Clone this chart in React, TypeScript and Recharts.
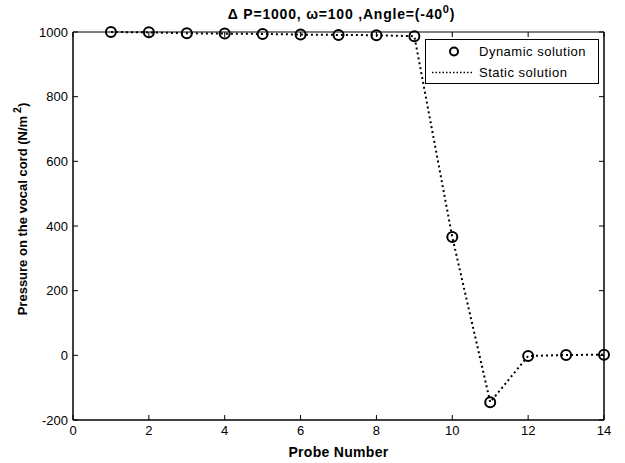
import React from 'react';
import { LineChart, Line, XAxis, YAxis, Legend, Label } from 'recharts';

// Probe positions along the vocal cord
const probeNumbers = [1, 2, 3, 4, 5, 6, 7, 8, 9, 10, 11, 12, 13, 14];
// Pressure values (N/m^2) at each probe
const dynamicSolution = [1000, 999, 996, 995, 994, 992, 991, 990, 987, 366, -145, -2, 1, 2];
const staticSolution = [1000, 999, 996, 995, 994, 992, 991, 990, 987, 366, -145, -2, 1, 2];

const xTicks = [0, 2, 4, 6, 8, 10, 12, 14];
const yTicks = [-200, 0, 200, 400, 600, 800, 1000];

const data = probeNumbers.map((p, i) => ({
  probe: p,
  dynamic: dynamicSolution[i],
  stat: staticSolution[i],
}));

const FONT = '"Liberation Sans", Arial, Helvetica, sans-serif';

const YLabel = (props: any) => {
  const vb = props.viewBox || {};
  const cx = 22;
  const cy = vb.y + vb.height / 2 - 17;
  return (
    <text
      x={cx}
      y={cy}
      transform={`rotate(-90, ${cx}, ${cy})`}
      textAnchor="middle"
      dominantBaseline="central"
      fontFamily={FONT}
      fontSize={13}
      fontWeight="bold"
      fill="#000"
    >
      Pressure on the vocal cord (N/m
      <tspan dx={3} dy={-5} fontSize={10.5}>2</tspan>
      <tspan dy={5}>)</tspan>
    </text>
  );
};

const LegendBox = (props: any) => {
  const payload = [...(props.payload || [])].sort((a: any, b: any) =>
    a.dataKey === 'dynamic' ? -1 : b.dataKey === 'dynamic' ? 1 : 0
  );
  return (
    <div
      style={{
        width: 174,
        height: 45,
        border: '1px solid #000',
        background: '#fff',
        fontFamily: FONT,
        fontSize: 13,
        letterSpacing: 0.5,
        color: '#000',
        boxSizing: 'border-box',
      }}
    >
      {payload.map((item: any) => (
        <div
          key={item.dataKey}
          style={{ display: 'flex', alignItems: 'center', height: 21, marginTop: item.dataKey === 'dynamic' ? 1 : 0 }}
        >
          <svg width={52} height={21}>
            {item.dataKey === 'dynamic' ? (
              <circle cx={28} cy={10.5} r={4} fill="none" stroke="#000" strokeWidth={2} />
            ) : (
              <line x1={6} y1={10.5} x2={48} y2={10.5} stroke="#000" strokeWidth={1.5} strokeDasharray="1.5 2" />
            )}
          </svg>
          <span style={{ marginLeft: 1 }}>{item.value}</span>
        </div>
      ))}
    </div>
  );
};

export default function App() {
  return (
    <div style={{ position: 'absolute', left: 0, top: 0, width: 625, height: 463, background: '#fff' }}>
      <div
        style={{
          position: 'absolute',
          left: 73,
          width: 537,
          top: 4,
          textAlign: 'center',
          fontFamily: FONT,
          fontSize: 14,
          letterSpacing: 0.8,
          fontWeight: 'bold',
          color: '#000',
          zIndex: 2,
          lineHeight: '20px',
        }}
      >
        Δ P=1000, ω=100 ,Angle=(-40<sup style={{ fontSize: 11, verticalAlign: 6, lineHeight: 0 }}>0</sup>)
      </div>
      <LineChart
        width={625}
        height={463}
        data={data}
        margin={{ top: 31, right: 20, bottom: 5, left: 13 }}
      >
        <XAxis
          xAxisId="bottom"
          dataKey="probe"
          type="number"
          domain={[0, 14]}
          ticks={xTicks}
          height={38}
          tickSize={-5}
          tickMargin={11}
          axisLine={{ stroke: '#000', strokeWidth: 1.5 }}
          tickLine={{ stroke: '#000' }}
          tick={{ fill: '#000', fontSize: 13, fontFamily: FONT }}
        >
          <Label
            value="Probe Number"
            position="insideBottom"
            offset={1}
            style={{ fontFamily: FONT, fontSize: 14, letterSpacing: 0.3, fontWeight: 'bold', fill: '#000' }}
          />
        </XAxis>
        <XAxis
          xAxisId="top"
          orientation="top"
          dataKey="probe"
          type="number"
          domain={[0, 14]}
          ticks={xTicks}
          height={1}
          tickSize={-5}
          tickFormatter={() => ''}
          axisLine={{ stroke: '#000', strokeWidth: 1 }}
          tickLine={{ stroke: '#000' }}
        />
        <YAxis
          yAxisId="left"
          type="number"
          domain={[-200, 1000]}
          ticks={yTicks}
          width={60}
          tickSize={-5}
          tickMargin={10}
          axisLine={{ stroke: '#000', strokeWidth: 1.5 }}
          tickLine={{ stroke: '#000' }}
          tick={{ fill: '#000', fontSize: 13, fontFamily: FONT }}
        >
          <Label content={<YLabel />} />
        </YAxis>
        <YAxis
          yAxisId="right"
          orientation="right"
          type="number"
          domain={[-200, 1000]}
          ticks={yTicks}
          width={1}
          tickSize={-5}
          tickFormatter={() => ''}
          axisLine={{ stroke: '#000', strokeWidth: 1.5 }}
          tickLine={{ stroke: '#000' }}
        />
        <Line
          xAxisId="top"
          yAxisId="right"
          dataKey="stat"
          name="Static solution"
          stroke="#000"
          strokeWidth={2}
          strokeDasharray="2 3"
          dot={false}
          activeDot={false}
          isAnimationActive={false}
        />
        <Line
          xAxisId="bottom"
          yAxisId="left"
          dataKey="dynamic"
          name="Dynamic solution"
          stroke="none"
          dot={{ r: 5, fill: 'none', stroke: '#000', strokeWidth: 2 }}
          activeDot={false}
          isAnimationActive={false}
        />
        <Legend
          layout="horizontal"
          verticalAlign="middle"
          align="center"
          content={<LegendBox />}
          wrapperStyle={{ left: 425, top: 39, width: 174, height: 45 }}
        />
      </LineChart>
    </div>
  );
}
